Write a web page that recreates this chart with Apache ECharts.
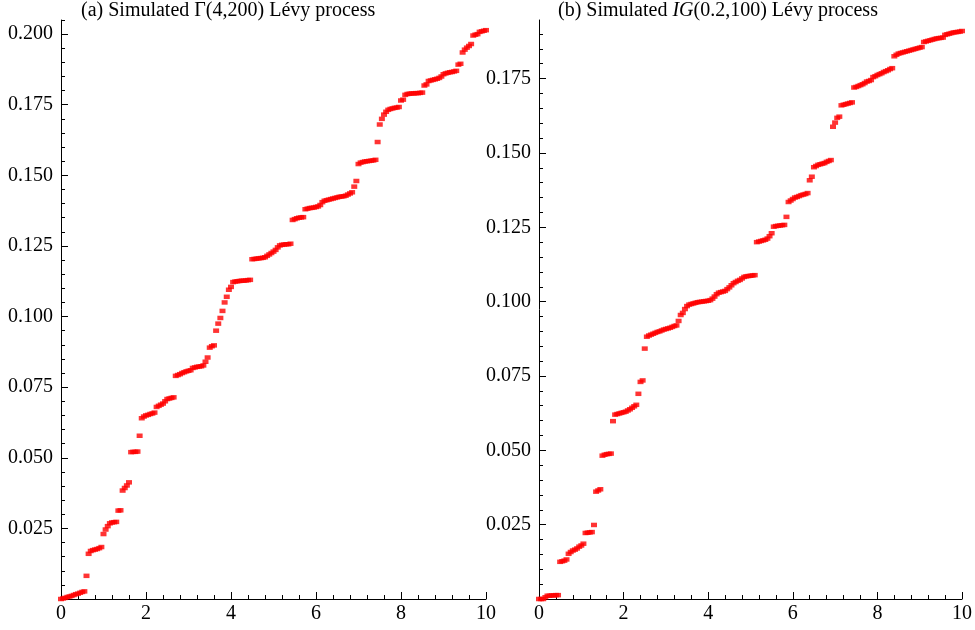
<!DOCTYPE html>
<html>
<head>
<meta charset="utf-8">
<script src="https://cdn.jsdelivr.net/npm/echarts@6/dist/echarts.min.js"></script>
<style>html,body{margin:0;padding:0;background:#fff}#c{width:975px;height:630px}</style>
</head>
<body>
<div id="c"></div>
<script>
// time grid step
const tStep = 0.05;
// (a) Simulated Gamma(4,200) Levy process, values at t = 0, 0.05, ..., 10
const gammaVals = [
0.0000,0.0002,0.0004,0.0007,0.0009,0.0011,0.0014,0.0017,0.0019,0.0022,
0.0025,0.0027,0.0082,0.0160,0.0170,0.0173,0.0175,0.0177,0.0180,0.0184,
0.0230,0.0246,0.0258,0.0268,0.0271,0.0272,0.0273,0.0313,0.0314,0.0384,
0.0393,0.0402,0.0413,0.0520,0.0521,0.0521,0.0522,0.0578,0.0640,0.0646,
0.0650,0.0652,0.0655,0.0657,0.0660,0.0680,0.0684,0.0688,0.0692,0.0700,
0.0708,0.0710,0.0712,0.0714,0.0790,0.0793,0.0796,0.0800,0.0803,0.0806,
0.0808,0.0810,0.0818,0.0820,0.0822,0.0823,0.0824,0.0827,0.0840,0.0855,
0.0890,0.0895,0.0898,0.0950,0.0975,0.0995,0.1020,0.1050,0.1070,0.1095,
0.1105,0.1122,0.1124,0.1125,0.1126,0.1127,0.1127,0.1128,0.1129,0.1130,
0.1203,0.1204,0.1205,0.1206,0.1207,0.1208,0.1210,0.1215,0.1220,0.1225,
0.1230,0.1236,0.1245,0.1252,0.1254,0.1255,0.1256,0.1256,0.1258,0.1342,
0.1345,0.1348,0.1350,0.1351,0.1352,0.1380,0.1382,0.1384,0.1385,0.1386,
0.1388,0.1390,0.1395,0.1405,0.1410,0.1412,0.1414,0.1416,0.1418,0.1420,
0.1422,0.1424,0.1425,0.1426,0.1428,0.1432,0.1436,0.1440,0.1460,0.1480,
0.1540,0.1545,0.1547,0.1549,0.1550,0.1551,0.1552,0.1553,0.1555,0.1618,
0.1680,0.1700,0.1715,0.1725,0.1732,0.1735,0.1737,0.1739,0.1740,0.1742,
0.1765,0.1768,0.1785,0.1788,0.1789,0.1790,0.1790,0.1791,0.1791,0.1792,
0.1793,0.1818,0.1822,0.1834,0.1836,0.1838,0.1840,0.1842,0.1845,0.1850,
0.1858,0.1861,0.1863,0.1865,0.1866,0.1868,0.1870,0.1892,0.1895,0.1935,
0.1945,0.1952,0.1958,0.1965,0.1995,0.1998,0.2000,0.2008,0.2010,0.2012,
0.2014
];
// (b) Simulated IG(0.2,100) Levy process
const igVals = [
0.0000,0.0000,0.0000,0.0006,0.0011,0.0011,0.0012,0.0012,0.0013,0.0013,
0.0125,0.0127,0.0129,0.0133,0.0152,0.0158,0.0163,0.0166,0.0170,0.0176,
0.0180,0.0186,0.0222,0.0223,0.0224,0.0225,0.0249,0.0361,0.0365,0.0369,
0.0482,0.0485,0.0487,0.0488,0.0489,0.0598,0.0620,0.0622,0.0624,0.0626,
0.0628,0.0630,0.0634,0.0638,0.0643,0.0648,0.0653,0.0690,0.0730,0.0735,
0.0842,0.0882,0.0886,0.0889,0.0892,0.0895,0.0898,0.0900,0.0903,0.0906,
0.0908,0.0910,0.0912,0.0915,0.0918,0.0920,0.0935,0.0955,0.0962,0.0975,
0.0985,0.0990,0.0992,0.0994,0.0996,0.0998,0.0999,0.1000,0.1001,0.1002,
0.1003,0.1005,0.1010,0.1017,0.1025,0.1030,0.1032,0.1034,0.1036,0.1042,
0.1048,0.1055,0.1062,0.1066,0.1070,0.1073,0.1078,0.1083,0.1085,0.1086,
0.1087,0.1088,0.1089,0.1200,0.1202,0.1204,0.1206,0.1208,0.1212,0.1220,
0.1230,0.1252,0.1254,0.1255,0.1256,0.1257,0.1258,0.1285,0.1335,0.1340,
0.1345,0.1350,0.1352,0.1355,0.1358,0.1360,0.1362,0.1365,0.1408,0.1420,
0.1452,0.1456,0.1460,0.1462,0.1464,0.1466,0.1470,0.1473,0.1476,0.1588,
0.1602,0.1618,0.1622,0.1660,0.1662,0.1664,0.1666,0.1668,0.1670,0.1720,
0.1722,0.1725,0.1728,0.1731,0.1735,0.1740,0.1742,0.1745,0.1755,0.1758,
0.1762,0.1765,0.1768,0.1772,0.1775,0.1778,0.1782,0.1785,0.1825,0.1830,
0.1834,0.1836,0.1838,0.1840,0.1842,0.1844,0.1846,0.1848,0.1850,0.1852,
0.1854,0.1856,0.1873,0.1875,0.1877,0.1879,0.1881,0.1883,0.1885,0.1886,
0.1887,0.1888,0.1897,0.1899,0.1901,0.1903,0.1905,0.1906,0.1907,0.1908,
0.1910
];
const yMajorA = [0.025,0.05,0.075,0.1,0.125,0.15,0.175,0.2];
const yMajorB = [0.025,0.05,0.075,0.1,0.125,0.15,0.175];
const yMaxA = 0.205, yMaxB = 0.1947;
const titleA = '(a) Simulated \u0393(4,200) L\u00e9vy process';
const titleB = '(b) Simulated {i|IG}(0.2,100) L\u00e9vy process';

const FONT = '"Liberation Serif","Times New Roman",serif';
const FS = 20;
function minorList(max){ const a=[]; for(let k=1;k*0.005<=max+1e-9;k++){ if(k%5!==0) a.push(+(k*0.005).toFixed(3)); } return a; }
function toPts(vals){ return vals.map((v,i)=>[+(i*tStep).toFixed(2), v]); }

const chart = echarts.init(document.getElementById('c'), null, {renderer:'canvas'});
const axisLineStyle = {color:'#000', width:1};
function xAx(gi){
  return {type:'value', gridIndex:gi, min:0, max:10, interval:2,
    axisLine:{show:true, onZero:false, lineStyle:axisLineStyle},
    axisTick:{show:true, inside:true, length:7, lineStyle:axisLineStyle},
    minorTick:{show:true, splitNumber:5, length:4, lineStyle:axisLineStyle},
    axisLabel:{color:'#000', fontFamily:FONT, fontSize:FS, margin:5},
    splitLine:{show:false}};
}
function yMajor(gi, max, ticks){
  return {type:'value', gridIndex:gi, min:0, max:max, position:'left',
    axisLine:{show:true, onZero:false, lineStyle:axisLineStyle},
    axisTick:{show:true, inside:true, length:7, lineStyle:axisLineStyle, customValues:ticks},
    axisLabel:{color:'#000', fontFamily:FONT, fontSize:FS, margin:8, customValues:ticks,
      formatter:(v)=>v.toFixed(3)},
    splitLine:{show:false}};
}
function yMinor(gi, max){
  const m = minorList(max);
  return {type:'value', gridIndex:gi, min:0, max:max, interval:0.005, position:'left', offset:0,
    axisLine:{show:false},
    axisTick:{show:true, inside:true, length:4, lineStyle:axisLineStyle, customValues:m},
    axisLabel:{show:false, customValues:m},
    splitLine:{show:false}};
}
const option = {
  animation:false,
  backgroundColor:'#fff',
  title:[
    {text:titleA, left:81, top:1, padding:0, textStyle:{fontFamily:FONT, fontSize:FS, fontWeight:'normal', color:'#000'}},
    {text:titleB, left:558, top:1, padding:0, textStyle:{fontFamily:FONT, fontSize:FS, fontWeight:'normal', color:'#000',
      rich:{i:{fontStyle:'italic', fontFamily:FONT, fontSize:FS, color:'#000'}}}}
  ],
  grid:[
    {left:61, right:489, top:20, bottom:31},
    {left:539, right:11, top:20, bottom:31}
  ],
  xAxis:[xAx(0), xAx(1)],
  yAxis:[yMajor(0,yMaxA,yMajorA), yMinor(0,yMaxA), yMajor(1,yMaxB,yMajorB), yMinor(1,yMaxB)],
  series:[
    {type:'scatter', xAxisIndex:0, yAxisIndex:0, data:toPts(gammaVals), symbol:'rect', symbolSize:[6,4.5],
      itemStyle:{color:'#ff0000'}, clip:false, z:5},
    {type:'scatter', xAxisIndex:1, yAxisIndex:2, data:toPts(igVals), symbol:'rect', symbolSize:[6,4.5],
      itemStyle:{color:'#ff0000'}, clip:false, z:5}
  ]
};
chart.setOption(option);
</script>
</body>
</html>
